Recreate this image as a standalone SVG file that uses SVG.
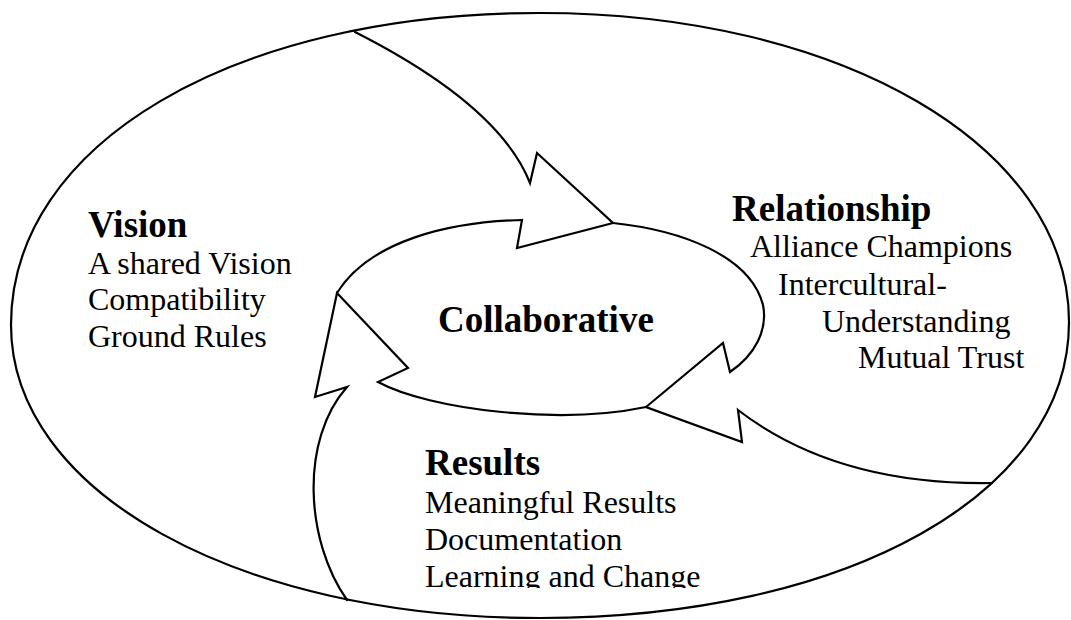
<svg xmlns="http://www.w3.org/2000/svg" width="1071" height="620" viewBox="0 0 1071 620">
<style>
.ln{fill:none;stroke:#000;stroke-width:2.2;stroke-linejoin:miter;stroke-linecap:round}
.h{font-family:"Liberation Serif","Times New Roman",serif;font-weight:bold;font-size:37px;fill:#000}
.t{font-family:"Liberation Serif","Times New Roman",serif;font-size:32px;fill:#000}
</style>
<defs>
<clipPath id="clipRes"><rect x="380" y="430" width="400" height="158"/></clipPath>
</defs>
<rect width="1071" height="620" fill="#fff"/>
<path id="outer" class="ln" d="M11,325 C11,144 233,13 540,13 C841,13 1069,146 1069,322 C1069,494 847,618 540,618 C238,618 11,492 11,325 Z"/>
<g id="connectors">
<path id="arrowVisionToRelationship" class="ln" d="M355,32 C430,70 505,120 530,183 L537,153 L613,223 L517,248 L522,220 C450,222 370,240 337,293"/>
<path id="arrowRelationshipToResults" class="ln" d="M613,223 C680,230 750,255 763,305 C768,330 755,355 730,372 L723,343 L646,407 L742,442 L738,410 C790,450 870,485 992,483"/>
<path id="arrowResultsToVision" class="ln" d="M347,600 C305,540 300,440 347,387 L315,397 L337,293 L408,368 L378,382 C430,410 560,425 646,407"/>
</g>
<g id="Vision">
<text class="h" x="88" y="237">Vision</text>
<text class="t" x="88" y="274">A shared Vision</text>
<text class="t" x="88" y="310">Compatibility</text>
<text class="t" x="88" y="347">Ground Rules</text>
</g>
<g id="Collaborative">
<text class="h" x="438" y="332">Collaborative</text>
</g>
<g id="Relationship">
<text class="h" x="732" y="221">Relationship</text>
<text class="t" x="750" y="257">Alliance Champions</text>
<text class="t" x="778" y="295">Intercultural-</text>
<text class="t" x="822" y="332">Understanding</text>
<text class="t" x="858" y="368">Mutual Trust</text>
</g>
<g id="Results" clip-path="url(#clipRes)">
<text class="h" x="425" y="475">Results</text>
<text class="t" x="425" y="513">Meaningful Results</text>
<text class="t" x="425" y="550">Documentation</text>
<text class="t" x="425" y="587">Learning and Change</text>
</g>
</svg>
